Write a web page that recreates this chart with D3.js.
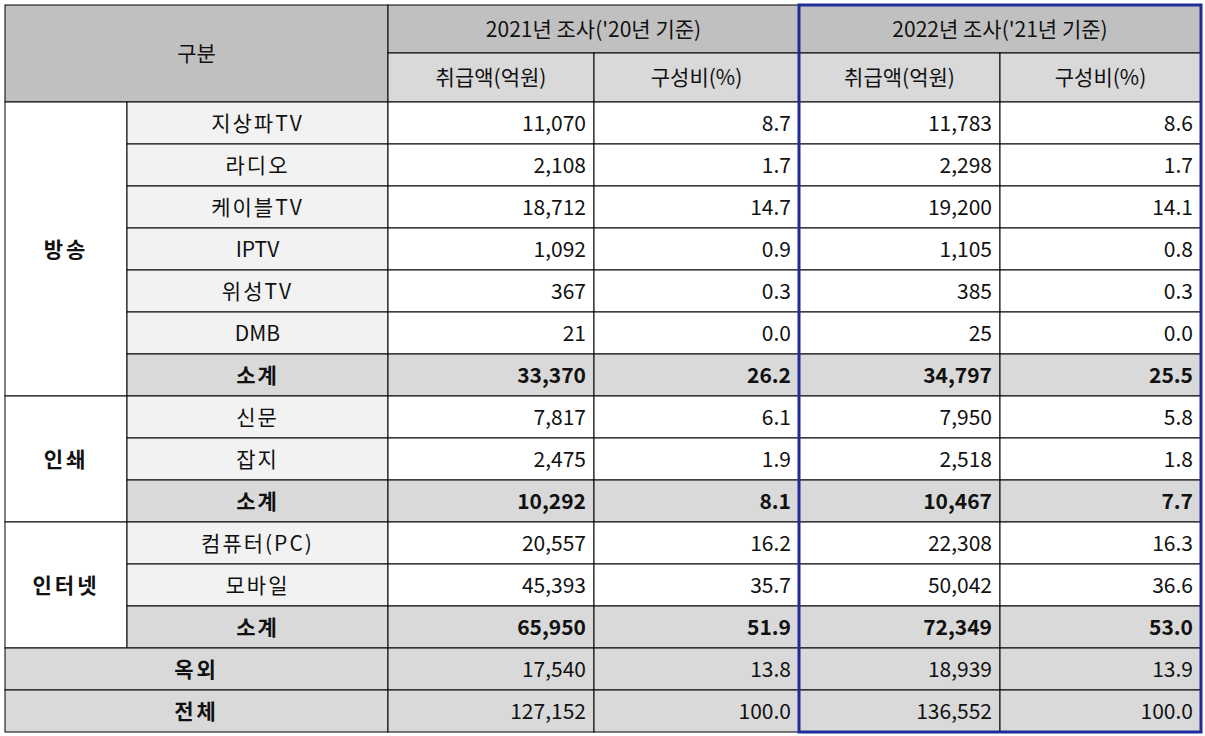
<!DOCTYPE html>
<html><head><meta charset="utf-8">
<script src="https://cdn.jsdelivr.net/npm/d3@7"></script>
<style>body{margin:0;background:#fff}</style>
</head><body>
<svg id="c" width="1205" height="736"></svg>
<script>
// data
var groups = ["방송", "인쇄", "인터넷"];
var groupSizes = [7, 3, 3];
var items = ["지상파TV","라디오","케이블TV","IPTV","위성TV","DMB","소계","신문","잡지","소계","컴퓨터(PC)","모바일","소계","옥외","전체"];
var amt2021 = [11070,2108,18712,1092,367,21,33370,7817,2475,10292,20557,45393,65950,17540,127152];
var pct2021 = [8.7,1.7,14.7,0.9,0.3,0.0,26.2,6.1,1.9,8.1,16.2,35.7,51.9,13.8,100.0];
var amt2022 = [11783,2298,19200,1105,385,25,34797,7950,2518,10467,22308,50042,72349,18939,136552];
var pct2022 = [8.6,1.7,14.1,0.8,0.3,0.0,25.5,5.8,1.8,7.7,16.3,36.6,53.0,13.9,100.0];
var years = ["2021년 조사('20년 기준)", "2022년 조사('21년 기준)"];
var subHeads = ["취급액(억원)", "구성비(%)"];

var svg = d3.select("#c");
var colX = [5, 127, 388, 594, 799, 1000, 1201];
var y = d3.scaleLinear().domain([0, items.length]).range([102, 732]);
var FONT = "'Noto Sans CJK KR','Noto Sans',sans-serif";
var fmt = d3.format(",");

function cell(x0, x1, y0, y1, fill, txt, align, bold, spacing){
    svg.append("rect").attr("x", x0).attr("y", y0).attr("width", x1 - x0).attr("height", y1 - y0)
        .attr("fill", fill).attr("stroke", "#000").attr("stroke-width", 1);
    if (txt === undefined) return;
    var t = svg.append("text").attr("y", (y0 + y1) / 2).attr("dy", "0.36em")
        .attr("font-family", FONT).attr("font-size", 21).attr("fill", "#111")
        .attr("letter-spacing", spacing || 0)
        .attr("font-weight", bold ? "bold" : "normal").text(txt);
    if (align === "right") t.attr("x", x1 - 8).attr("text-anchor", "end");
    else t.attr("x", (x0 + x1) / 2).attr("text-anchor", "middle");
}

// header
cell(colX[0], colX[2], 5, 102, "#c0c0c0", "구분");
years.forEach(function(yr, i){
    cell(colX[2 + 2*i], colX[4 + 2*i], 5, 53, "#c0c0c0", yr);
    subHeads.forEach(function(s, j){
        cell(colX[2 + 2*i + j], colX[3 + 2*i + j], 53, 102, "#d9d9d9", s);
    });
});

// group labels
var start = 0;
groups.forEach(function(g, i){
    cell(colX[0], colX[1], y(start), y(start + groupSizes[i]), "#fff", g, "center", true, 3);
    start += groupSizes[i];
});

items.forEach(function(it, i){
    var sub = it === "소계";
    var tot = i >= 13;
    var fill = (sub || tot) ? "#d9d9d9" : "#fff";
    var y0 = y(i), y1 = y(i + 1);
    if (tot) cell(colX[0], colX[2], y0, y1, "#d9d9d9", it, "center", true, 3);
    else cell(colX[1], colX[2], y0, y1, sub ? "#d9d9d9" : "#f2f2f2", it, "center", sub, /[가-힣]/.test(it) ? 2 : 0);
    cell(colX[2], colX[3], y0, y1, fill, fmt(amt2021[i]), "right", sub);
    cell(colX[3], colX[4], y0, y1, fill, pct2021[i].toFixed(1), "right", sub);
    cell(colX[4], colX[5], y0, y1, fill, fmt(amt2022[i]), "right", sub);
    cell(colX[5], colX[6], y0, y1, fill, pct2022[i].toFixed(1), "right", sub);
});

// highlight box
svg.append("rect").attr("x", colX[4]).attr("y", 5).attr("width", colX[6] - colX[4]).attr("height", 727)
    .attr("fill", "none").attr("stroke", "#1f2b9a").attr("stroke-width", 3);
</script>
</body></html>
